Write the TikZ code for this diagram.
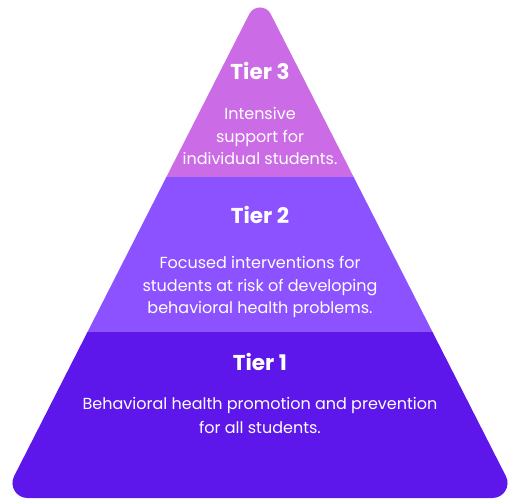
\documentclass[tikz,border=0pt]{standalone}
\usepackage{fontspec}
\setmainfont{Poppins}
\usetikzlibrary{calc}
\definecolor{tierthree}{HTML}{CB6CE6}
\definecolor{tiertwo}{HTML}{8C52FF}
\definecolor{tierone}{HTML}{5E17EB}
\tikzset{
  tiertitle/.style={text=white, font=\fontsize{21.5}{24}\selectfont\bfseries, inner sep=0pt},
  tierbody/.style={text=white, font=\fontsize{16}{22.5}\selectfont, align=center, inner sep=0pt}
}
\begin{document}
\begin{tikzpicture}[x=1pt,y=-1pt]
\useasboundingbox (0,0) rectangle (508,500);
% corners of the sharp triangle
\coordinate (T) at (260,-7);
\coordinate (R) at (517,498);
\coordinate (L) at (3,498);
% tangent points of the rounded corners
\coordinate (A1) at (249.30,14.02);
\coordinate (A2) at (270.70,14.02);
\coordinate (R1) at (505.90,476.20);
\coordinate (R2) at (492.54,498);
\coordinate (L2) at (27.46,498);
\coordinate (L1) at (14.10,476.20);
\begin{scope}
\clip (A1) .. controls ($(A1)!0.4157!(T)$) and ($(A2)!0.4157!(T)$) .. (A2)
  -- (R1) .. controls ($(R1)!0.458!(R)$) and ($(R2)!0.458!(R)$) .. (R2)
  -- (L2) .. controls ($(L2)!0.458!(L)$) and ($(L1)!0.458!(L)$) .. (L1)
  -- cycle;
\fill[tierthree] (0,-10) rectangle (520,177);
\fill[tiertwo] (0,177) rectangle (520,332);
\fill[tierone] (0,332) rectangle (520,510);
\end{scope}
\node[tiertitle] (t3) at (260,71) {Tier 3};
\node[tierbody] (b3) at (260,136) {Intensive\\support for\\individual students.};
\node[tiertitle] (t2) at (260,215) {Tier 2};
\node[tierbody] (b2) at (260,287) {Focused interventions for\\students at risk of developing\\behavioral health problems.};
\node[tiertitle] (t1) at (260,362) {Tier 1};
\node[tierbody, font=\fontsize{16}{24}\selectfont] (b1) at (260,415) {Behavioral health promotion and prevention\\for all students.};
\end{tikzpicture}
\end{document}
